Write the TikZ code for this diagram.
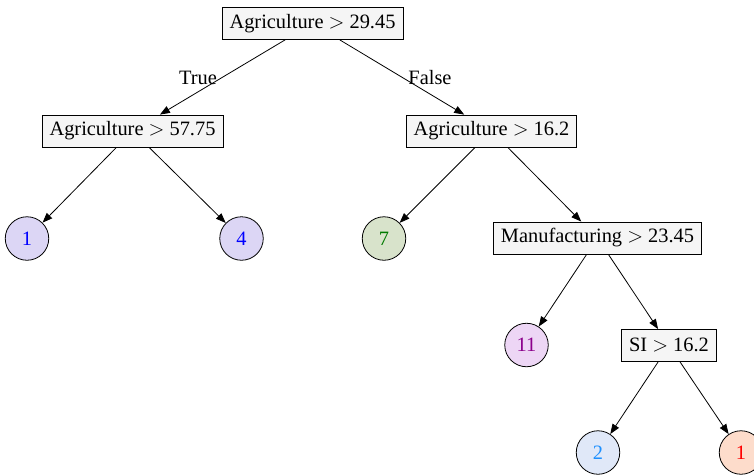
\documentclass[tikz,border=0pt]{standalone}
\usepackage{fontspec}
\setmainfont{Liberation Serif}
\usetikzlibrary{arrows.meta}
\definecolor{boxfill}{HTML}{F5F5F5}
\definecolor{lavfill}{HTML}{DCD6F5}
\definecolor{greenfill}{HTML}{D8E3CB}
\definecolor{greentext}{HTML}{007A00}
\definecolor{pinkfill}{HTML}{EDD6F5}
\definecolor{purpletext}{HTML}{8B008B}
\definecolor{bluefill}{HTML}{E0E8F8}
\definecolor{bluetext}{HTML}{1E90FF}
\definecolor{salmonfill}{HTML}{FDDCCB}
\begin{document}
\begin{tikzpicture}[x=1pt,y=-1pt,
  every node/.style={font=\fontsize{20.4}{24}\selectfont},
  split/.style={draw, line width=0.8pt, fill=boxfill, inner xsep=7.5pt,
    minimum height=32pt, inner ysep=0pt},
  leaf/.style={draw, circle, line width=0.8pt, minimum size=43.5pt, inner sep=0pt},
  edge/.style={draw, line width=0.8pt, -{Triangle[length=10pt,width=7.5pt]}},
  lbl/.style={inner sep=0pt}]
  \useasboundingbox (0,0) rectangle (754,475);

  % decision nodes
  \node[split] (root) at (312.5,23.5) {Agriculture $>$ 29.45};
  \node[split] (a57) at (132.5,131) {Agriculture $>$ 57.75};
  \node[split] (a16) at (491.5,131) {Agriculture $>$ 16.2};
  \node[split] (man) at (597.5,238) {Manufacturing $>$ 23.45};
  \node[split] (si) at (669,345.5) {SI $>$ 16.2};

  % leaves
  \node[leaf, fill=lavfill, text=blue] (l1) at (27,238.5) {1};
  \node[leaf, fill=lavfill, text=blue] (l4) at (241.5,238.5) {4};
  \node[leaf, fill=greenfill, text=greentext] (l7) at (384,238.5) {7};
  \node[leaf, fill=pinkfill, text=purpletext] (l11) at (526.5,345) {11};
  \node[leaf, fill=bluefill, text=bluetext] (l2) at (598,452.5) {2};
  \node[leaf, fill=salmonfill, text=red] (r1) at (741,452.5) {1};

  % branches
  \path[edge] (root) -- (a57);
  \path[edge] (root) -- (a16);
  \path[edge] (a57) -- (l1);
  \path[edge] (a57) -- (l4);
  \path[edge] (a16) -- (l7);
  \path[edge] (a16) -- (man);
  \path[edge] (man) -- (l11);
  \path[edge] (man) -- (si);
  \path[edge] (si) -- (l2);
  \path[edge] (si) -- (r1);

  % branch labels
  \node[lbl] (ltrue) at (198,78) {True};
  \node[lbl] (lfalse) at (430,78) {False};
\end{tikzpicture}
\end{document}
